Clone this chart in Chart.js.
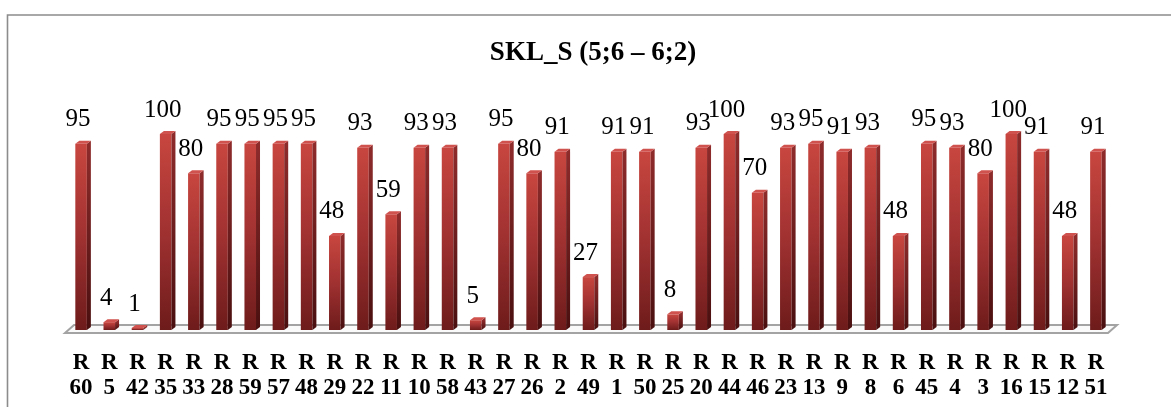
<!DOCTYPE html>
<html><head><meta charset="utf-8">
<script src="https://cdn.jsdelivr.net/npm/chart.js@4.4.0/dist/chart.umd.min.js"></script>
<style>html,body{margin:0;padding:0;background:#fff;overflow:hidden;width:1171px;height:407px}canvas{display:block}</style>
</head><body>
<canvas id="c" width="1171" height="422"></canvas>
<script>
const chartTitle = 'SKL_S (5;6 – 6;2)';
const categories = ['R60','R5','R42','R35','R33','R28','R59','R57','R48','R29','R22','R11','R10','R58','R43','R27','R26','R2','R49','R1','R50','R25','R20','R44','R46','R23','R13','R9','R8','R6','R45','R4','R3','R16','R15','R12','R51'];
const values = [95,4,1,100,80,95,95,95,95,48,93,59,93,93,5,95,80,91,27,91,91,8,93,100,70,93,95,91,93,48,95,93,80,100,91,48,91];
const yMin = 0, yMax = 100;

const tickLabels = categories.map(c => [c.slice(0,1), c.slice(1)]);
const DX = 4, DY = -3;

const depthPlugin = {
  id: 'depth',
  beforeDraw(chart) {
    const ctx = chart.ctx, a = chart.chartArea;
    ctx.save();
    ctx.strokeStyle = '#8c8c8c'; ctx.lineWidth = 1.6;
    ctx.beginPath(); ctx.moveTo(7.5, 600); ctx.lineTo(7.5, 15); ctx.lineTo(1300, 15); ctx.stroke();
    ctx.fillStyle = '#000';
    ctx.font = 'bold 27px "Liberation Serif"';
    ctx.textAlign = 'center'; ctx.textBaseline = 'middle';
    ctx.fillText(chartTitle, 593, 53);
    // floor
    const b = a.bottom;
    ctx.beginPath();
    ctx.moveTo(a.left - 2, b + 3);
    ctx.lineTo(a.left + 7, b - 5);
    ctx.lineTo(a.right + 7, b - 5);
    ctx.lineTo(a.right - 2, b + 3);
    ctx.closePath();
    ctx.fillStyle = '#fafafa'; ctx.fill();
    ctx.strokeStyle = '#a3a3a3'; ctx.lineWidth = 2; ctx.stroke();
    ctx.restore();
  },
  afterDatasetsDraw(chart) {
    const ctx = chart.ctx;
    const meta = chart.getDatasetMeta(0);
    ctx.save();
    meta.data.forEach((bar, i) => {
      const p = bar.getProps(['x','y','base','width'], true);
      const l = p.x - p.width/2, r = p.x + p.width/2, t = p.y, bo = p.base;
      // side face
      const gs = ctx.createLinearGradient(0, t, 0, bo);
      gs.addColorStop(0, '#8e2b2b'); gs.addColorStop(1, '#4a0f0f');
      ctx.beginPath();
      ctx.moveTo(r, t); ctx.lineTo(r + DX, t + DY); ctx.lineTo(r + DX, bo + DY); ctx.lineTo(r, bo);
      ctx.closePath(); ctx.fillStyle = gs; ctx.fill();
      // top face
      ctx.beginPath();
      ctx.moveTo(l, t); ctx.lineTo(l + DX, t + DY); ctx.lineTo(r + DX, t + DY); ctx.lineTo(r, t);
      ctx.closePath(); ctx.fillStyle = '#d0524e'; ctx.fill();
      // label
      ctx.fillStyle = '#000';
      ctx.font = '25px "Liberation Serif"';
      ctx.textAlign = 'center'; ctx.textBaseline = 'middle';
      ctx.fillText(String(values[i]), p.x - 3, t - 24);
    });
    ctx.restore();
  }
};

new Chart(document.getElementById('c'), {
  type: 'bar',
  data: {
    labels: tickLabels,
    datasets: [{
      data: values,
      barPercentage: 0.41,
      categoryPercentage: 1,
      borderWidth: 0,
      backgroundColor: (c) => {
        const chart = c.chart;
        if (!chart.chartArea || c.type !== 'data') return '#b03a38';
        const ys = chart.scales.y;
        const top = ys.getPixelForValue(c.raw), bot = ys.getPixelForValue(0);
        const g = chart.ctx.createLinearGradient(0, top, 0, bot);
        g.addColorStop(0, '#c8463f');
        g.addColorStop(0.5, '#a03131');
        g.addColorStop(1, '#6e1b1b');
        return g;
      }
    }]
  },
  options: {
    responsive: false,
    animation: false,
    layout: { padding: { left: 67, right: 61, top: 134, bottom: 0 } },
    plugins: { legend: { display: false }, title: { display: false }, tooltip: { enabled: false } },
    scales: {
      y: { display: false, min: yMin, max: yMax },
      x: {
        offset: true,
        grid: { display: false, drawTicks: false },
        border: { display: false },
        ticks: {
          autoSkip: false, maxRotation: 0, minRotation: 0,
          color: '#000', padding: 21,
          font: { family: '"Liberation Serif"', weight: 'bold', size: 23, lineHeight: 1.087 }
        }
      }
    }
  },
  plugins: [depthPlugin]
});
</script>
</body></html>
